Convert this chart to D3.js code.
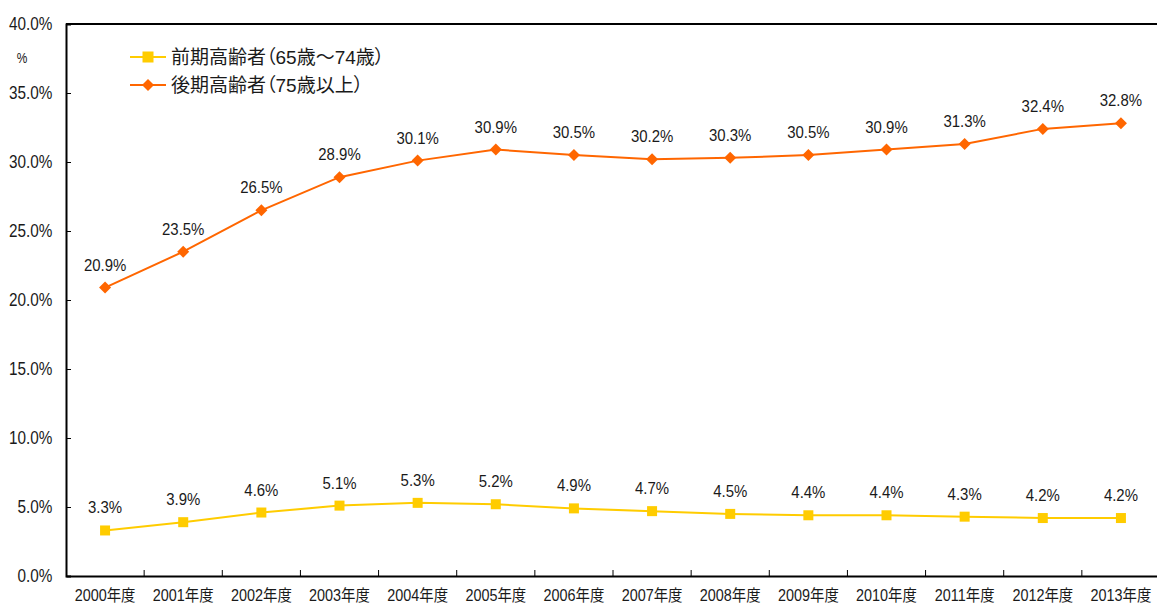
<!DOCTYPE html>
<html><head><meta charset="utf-8">
<script src="https://cdn.jsdelivr.net/npm/d3@7"></script>
<style>
body{margin:0;background:#fff;}
text{font-family:"Liberation Sans","Noto Sans CJK JP",sans-serif;fill:#1a1a1a;}
.legend text{font-feature-settings:"palt";}
</style></head>
<body><svg id="c" width="1157" height="608"></svg>
<script>
const categories = ["2000年度","2001年度","2002年度","2003年度","2004年度","2005年度","2006年度","2007年度","2008年度","2009年度","2010年度","2011年度","2012年度","2013年度"];
const earlyElderly = [3.3,3.9,4.6,5.1,5.3,5.2,4.9,4.7,4.5,4.4,4.4,4.3,4.2,4.2];
const lateElderly = [20.9,23.5,26.5,28.9,30.1,30.9,30.5,30.2,30.3,30.5,30.9,31.3,32.4,32.8];
const yTicks = [0,5,10,15,20,25,30,35,40];
const seriesNames = ["前期高齢者（65歳～74歳）","後期高齢者（75歳以上）"];
const seriesColors = ["#FFCC00","#FF6600"];

const FONT = '"Liberation Sans","Noto Sans CJK JP",sans-serif';
const svg = d3.select("#c");
const pLeft = 66, pRight = 1160, pTop = 24, pBottom = 576;
const x = d3.scaleBand().domain(categories).range([pLeft, pRight]);
const y = d3.scaleLinear().domain([0,40]).range([pBottom, pTop]);
const diamond = "M0,-6L6,0L0,6L-6,0Z";
const SX = 0.88;

// top border
svg.append("line").attr("x1",pLeft).attr("x2",1157).attr("y1",y(40)).attr("y2",y(40))
  .attr("stroke","#000").attr("stroke-width",2);

// y axis
const ya = svg.append("g").attr("transform",`translate(${pLeft},0)`)
  .call(d3.axisLeft(y).tickValues(yTicks).tickSize(-5).tickPadding(16).tickFormat(d=>d.toFixed(1)+"%"));
ya.select(".domain").attr("stroke","#000").attr("stroke-width",2);
ya.selectAll(".tick line").attr("stroke","#000");
ya.selectAll(".tick text").attr("font-size",18).attr("fill","#1a1a1a").style("font-family",FONT)
  .attr("transform","scale(0.85,1)");

// x axis
const xa = svg.append("g").attr("transform",`translate(0,${pBottom})`)
  .call(d3.axisBottom(x).tickSize(0).tickPadding(14));
xa.select(".domain").attr("stroke","#000").attr("stroke-width",2);
xa.selectAll(".tick text").attr("font-size",16).attr("fill","#1a1a1a").style("font-family",FONT)
  .attr("transform","scale(0.9,1)");
// boundary ticks (inward)
svg.append("g").selectAll("line").data(categories.slice(1)).join("line")
  .attr("x1",d=>x(d)).attr("x2",d=>x(d)).attr("y1",pBottom).attr("y2",pBottom-6)
  .attr("stroke","#000").attr("stroke-width",1);

// % unit label
svg.append("text").attr("transform","translate(22,63) scale(0.85,1)").attr("text-anchor","middle").attr("font-size",14).text("%");

const cx = d => x(d) + x.bandwidth()/2;
const line = d3.line().x((d,i)=>cx(categories[i])).y(d=>y(d));

function labels(data){
  svg.append("g").selectAll("text").data(data).join("text")
    .attr("transform",(d,i)=>`translate(${cx(categories[i])},${y(d)-17}) scale(${SX},1)`)
    .attr("text-anchor","middle").attr("font-size",17).text(d=>d.toFixed(1)+"%");
}

// late
svg.append("path").datum(lateElderly).attr("d",line).attr("fill","none")
  .attr("stroke",seriesColors[1]).attr("stroke-width",2);
svg.append("g").selectAll("path").data(lateElderly).join("path")
  .attr("d",diamond)
  .attr("transform",(d,i)=>`translate(${cx(categories[i])},${y(d)})`)
  .attr("fill",seriesColors[1]);
labels(lateElderly);

// early
svg.append("path").datum(earlyElderly).attr("d",line).attr("fill","none")
  .attr("stroke",seriesColors[0]).attr("stroke-width",2);
svg.append("g").selectAll("rect").data(earlyElderly).join("rect")
  .attr("x",(d,i)=>cx(categories[i])-5).attr("y",d=>y(d)-5)
  .attr("width",10).attr("height",10).attr("fill",seriesColors[0]);
labels(earlyElderly);

// legend
const lg = svg.append("g").attr("class","legend");
[0,1].forEach(i=>{
  const ly = 57 + i*28;
  lg.append("line").attr("x1",130).attr("x2",166).attr("y1",ly).attr("y2",ly)
    .attr("stroke",seriesColors[i]).attr("stroke-width",2);
  if(i===0) lg.append("rect").attr("x",142.5).attr("y",ly-5.5).attr("width",11).attr("height",11).attr("fill",seriesColors[0]);
  else lg.append("path").attr("d",diamond).attr("transform",`translate(148,${ly})`).attr("fill",seriesColors[1]);
  lg.append("text").attr("x",171).attr("y",ly+7).attr("font-size",19).text(seriesNames[i]);
});
</script></body></html>
